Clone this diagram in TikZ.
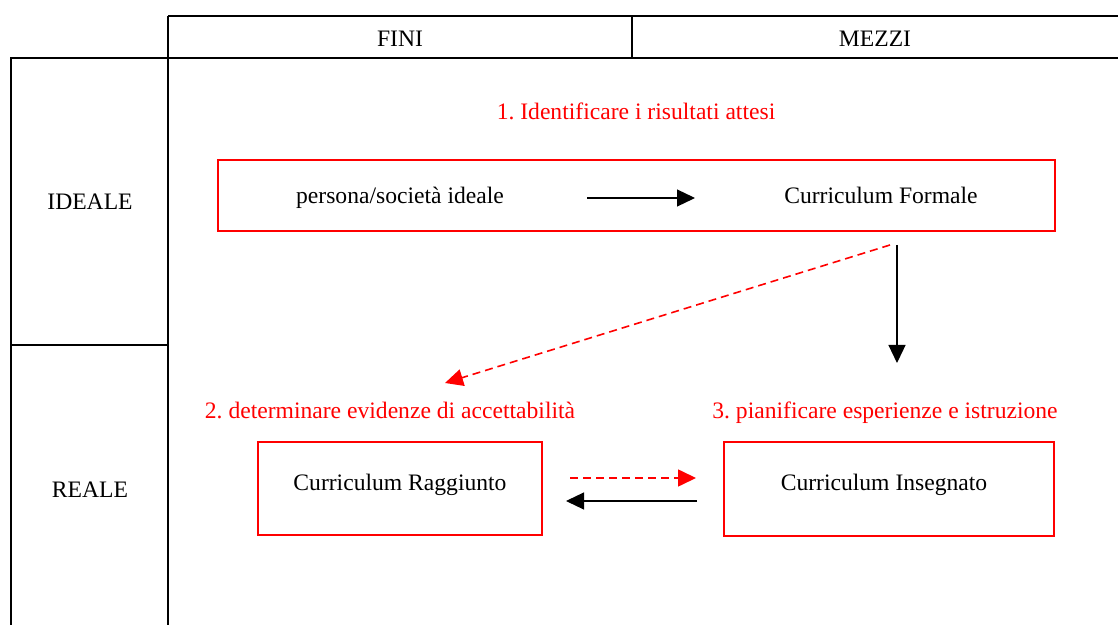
\documentclass[tikz,border=0pt]{standalone}
\usepackage{fontspec}
\setmainfont{Liberation Serif}
\usepackage{tikz}
\usetikzlibrary{arrows.meta}
\frenchspacing

\tikzset{
	rule/.style={line width=0.65pt},
	redbox/.style={draw=red, line width=0.8pt},
	lbl/.style={font=\fontsize{11.8}{14}\selectfont, inner sep=0pt, text height=8pt, text depth=0.5pt},
	redlbl/.style={lbl, text=red},
	tip/.style={-{Triangle[length=9pt,width=8.5pt]}, line width=0.6pt},
	redtip/.style={tip, red, line width=0.8pt, dash pattern=on 4pt off 2.5pt},
}

\begin{document}
\begin{tikzpicture}[x=0.5pt, y=-0.5pt]
		\useasboundingbox (0,0) rectangle (1118,625);
		% table
		\draw [rule] (168,16) -- (1118,16);
		\draw [rule] (10,58) -- (1118,58);
		\draw [rule] (168,16) -- (168,625);
		\draw [rule] (632,16) -- (632,58);
		\draw [rule] (11,58) -- (11,625);
		\draw [rule] (11,345) -- (168,345);
		\node [lbl] (fini) at (400,39) {FINI};
		\node [lbl] (mezzi) at (875,39) {MEZZI};
		\node [lbl] (ideale) at (90,202) {IDEALE};
		\node [lbl] (reale) at (90,490) {REALE};
		% boxes
		\draw [redbox] (218,160) rectangle (1055,231);
		\draw [redbox] (258,442) rectangle (542,535);
		\draw [redbox] (724,442) rectangle (1054,536);
		\node [redlbl] (step1) at (636,112) {1. Identificare i risultati attesi};
		\node [redlbl] (step2) at (390,411) {2. determinare evidenze di accettabilità};
		\node [redlbl] (step3) at (885,411) {3. pianificare esperienze e istruzione};
		\node [lbl] (persona) at (400,196) {persona/società ideale};
		\node [lbl] (formale) at (881,196) {Curriculum Formale};
		\node [lbl] (raggiunto) at (400,483) {Curriculum Raggiunto};
		\node [lbl] (insegnato) at (884,483) {Curriculum Insegnato};
		% arrows
		\coordinate (a1) at (587,198);
		\coordinate (a2) at (695,198);
		\coordinate (b1) at (897,245);
		\coordinate (b2) at (897,363);
		\coordinate (c1) at (890,245);
		\coordinate (c2) at (445,383);
		\coordinate (d1) at (570,478);
		\coordinate (d2) at (696,478);
		\coordinate (e1) at (697,501);
		\coordinate (e2) at (566,501);
		\draw [tip] (a1) -- (a2);
		\draw [tip] (b1) -- (b2);
		\draw [redtip] (c1) -- (c2);
		\draw [redtip] (d1) -- (d2);
		\draw [tip] (e1) -- (e2);
	\end{tikzpicture}
\end{document}
